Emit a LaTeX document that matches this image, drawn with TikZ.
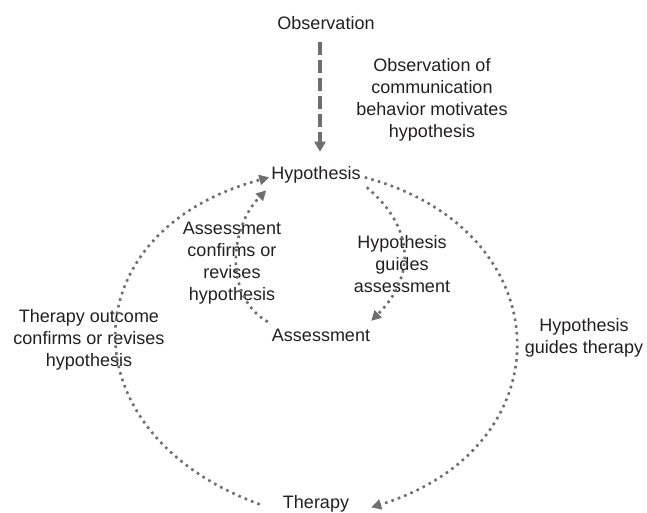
\documentclass[tikz,border=0pt]{standalone}
\usepackage{fontspec}
\setmainfont{Liberation Sans}
\usetikzlibrary{arrows.meta}
\definecolor{linegray}{HTML}{6E6E6E}
\definecolor{textgray}{HTML}{231F20}
\tikzset{
  lbl/.style={font=\fontsize{18}{21.8}\selectfont, text=textgray, align=center, inner sep=2pt},
  dotline/.style={draw=linegray, line width=2.6pt, dash pattern=on 2.6pt off 4.2pt,
    -{Triangle[length=10pt,width=10pt]}},
  dasharrow/.style={draw=linegray, line width=4pt, dash pattern=on 13pt off 5pt,
    -{Triangle[length=10pt,width=11pt]}}
}
\begin{document}
\begin{tikzpicture}[x=1pt,y=1pt]
\useasboundingbox (0,0) rectangle (647,513);
% main nodes (positioned by baseline)
\node[lbl, anchor=base] (obs) at (326,483) {Observation};
\node[lbl, anchor=base] (hyp) at (316,333) {Hypothesis};
\node[lbl, anchor=base] (ass) at (321,171) {Assessment};
\node[lbl, anchor=base] (ther) at (316,4) {Therapy};
% labels
\node[lbl] (obslbl) at (432,413) {Observation of\\communication\\behavior motivates\\hypothesis};
\node[lbl] (asslbl) at (232,250) {Assessment\\confirms or\\revises\\hypothesis};
\node[lbl] (hyplbl) at (402,249) {Hypothesis\\guides\\assessment};
\node[lbl] (therlbl) at (89,173) {Therapy outcome\\confirms or revises\\hypothesis};
\node[lbl] (hypther) at (584,175) {Hypothesis\\guides therapy};
% dashed arrow
\draw[dasharrow, shorten <=10pt, shorten >=13pt] ([xshift=-6]obs.south) -- ([xshift=-6]obs.south |- hyp.north);
% big circle
\draw[dotline] ([xshift=-21,yshift=0]ther.west) to[out=160,in=195,looseness=1.62] ([yshift=-2]hyp.west);
\draw[dotline] ([xshift=2,yshift=-2]hyp.east) to[out=-15,in=17,looseness=1.59] ([xshift=20,yshift=-3]ther.east);
% small circle
\draw[dotline] ([xshift=4,yshift=-12]hyp.east) to[out=-40,in=45,looseness=1.2] ([xshift=-1,yshift=15]ass.east);
\draw[dotline] ([xshift=-2,yshift=14]ass.west) to[out=150,in=225,looseness=1.0] ([xshift=-3,yshift=-15]hyp.west);
\end{tikzpicture}
\end{document}
